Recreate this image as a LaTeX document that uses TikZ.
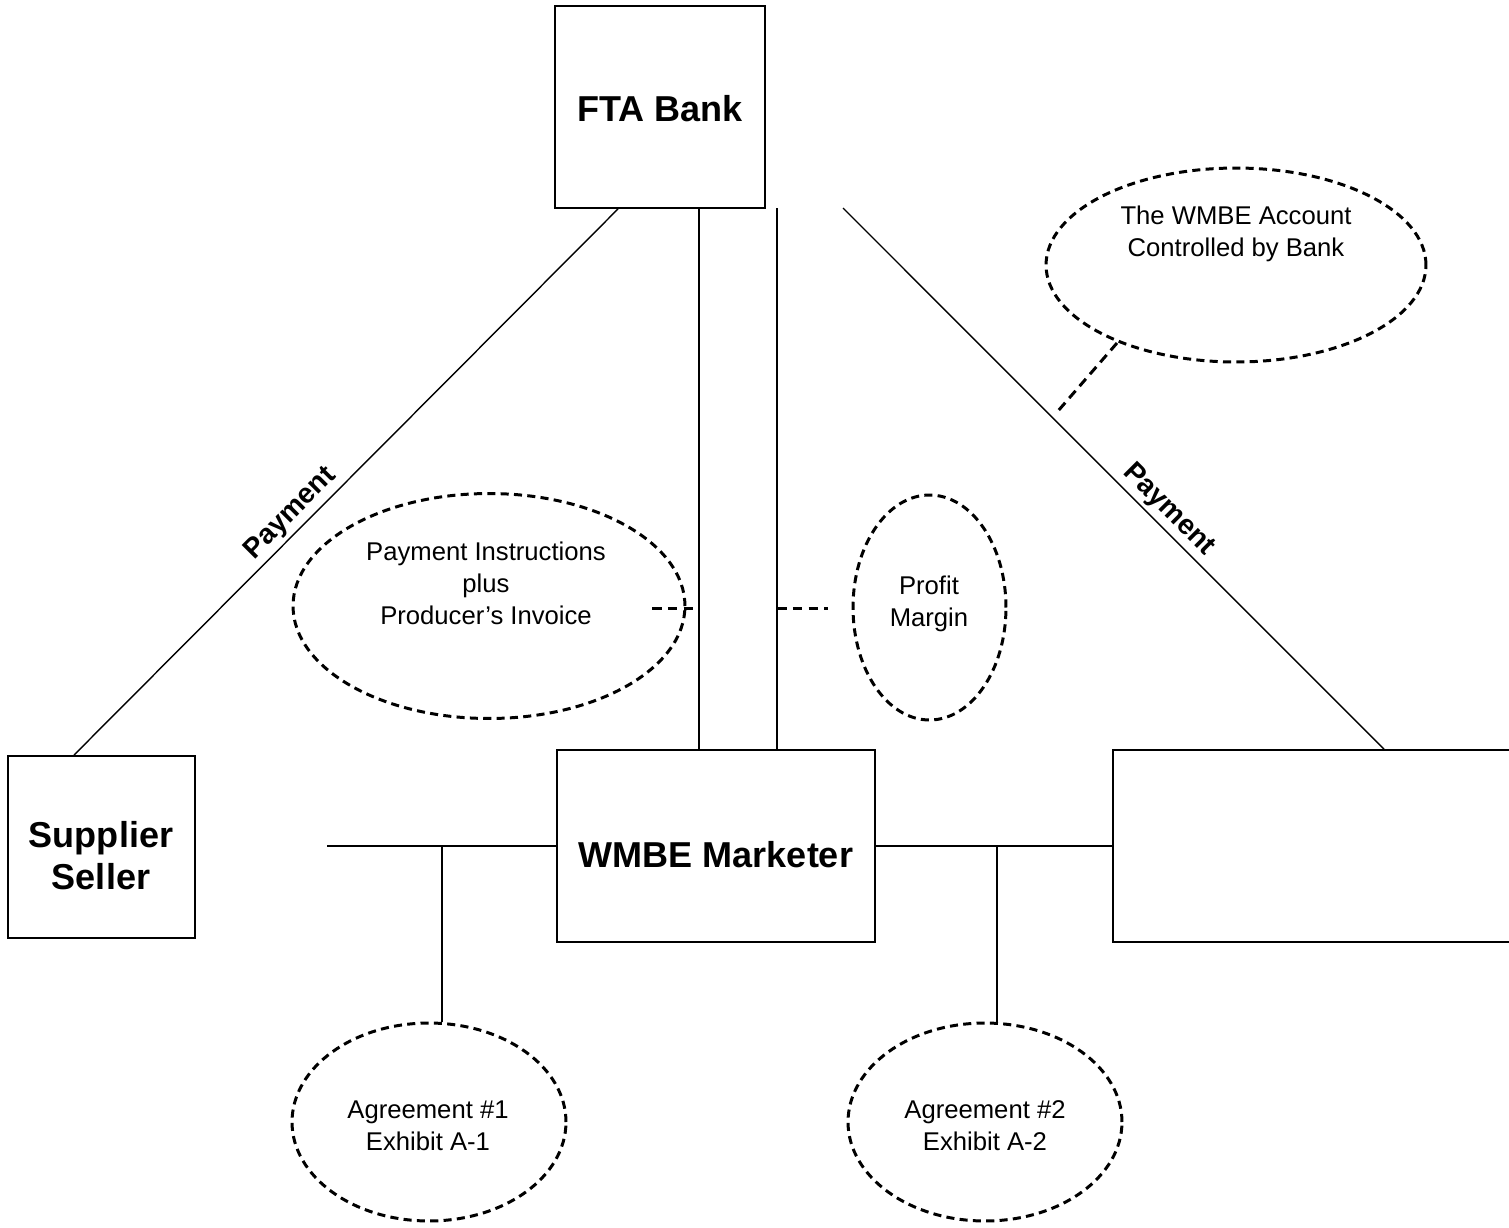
\documentclass[tikz,border=0pt]{standalone}
\usepackage{fontspec}
\setmainfont{Liberation Sans}
\usetikzlibrary{shapes.geometric}
\begin{document}
\begin{tikzpicture}[x=0.02cm,y=-0.02cm,
  box/.style={draw,line width=1.1pt,rectangle,inner sep=0pt},
  boxtext/.style={align=center,inner sep=0pt,font=\fontsize{20.5}{24}\selectfont\bfseries},
  oval/.style={draw,ellipse,line width=1.7pt,dash pattern=on 4.6pt off 3pt,inner sep=0pt},
  txt/.style={align=center,inner sep=0pt,font=\fontsize{14.6}{18.2}\selectfont},
  link/.style={line width=0.9pt},
  diag/.style={line width=0.8pt},
  dlink/.style={line width=1.7pt,dash pattern=on 5.5pt off 3.5pt},
  paylab/.style={font=\fontsize{16}{18}\selectfont\bfseries,inner sep=2pt}]
\useasboundingbox (0,0) rectangle (1509,1228);
\clip (0,0) rectangle (1509,1228);

% boxes
\node[box,minimum width=4.2cm,minimum height=4.04cm] (fta) at (660,107) {};
\node[boxtext] (ftatext) at (660,109) {FTA Bank};
\node[box,minimum width=3.74cm,minimum height=3.64cm] (sup) at (101.5,847) {};
\node[boxtext] (suptext) at (101,856) {Supplier\\Seller};
\node[box,minimum width=6.36cm,minimum height=3.84cm] (wmbe) at (716,846) {};
\node[boxtext] (wmbetext) at (716,855) {WMBE Marketer};
\node[box,minimum width=9.74cm,minimum height=3.84cm] (cust) at (1356.5,846) {};

% ellipses
\node[oval,minimum width=7.84cm,minimum height=4.5cm] (pi) at (489,606) {};
\node[txt] (pitext) at (486,583) {Payment Instructions\\plus\\Producer’s Invoice};
\node[oval,minimum width=3.06cm,minimum height=4.5cm] (pm) at (929.5,607.5) {};
\node[txt] (pmtext) at (929,604) {Profit\\Margin};
\node[oval,minimum width=7.6cm,minimum height=3.88cm] (acct) at (1236,265) {};
\node[txt] (accttext) at (1236,234) {The WMBE Account\\Controlled by Bank};
\node[oval,minimum width=5.48cm,minimum height=3.96cm] (a1) at (429,1122) {};
\node[txt] (a1text) at (428,1126) {Agreement \#1\\Exhibit A-1};
\node[oval,minimum width=5.48cm,minimum height=3.96cm] (a2) at (985,1122) {};
\node[txt] (a2text) at (985,1126) {Agreement \#2\\Exhibit A-2};

% free ends
\coordinate (pl1) at (618,0);
\coordinate (pl2) at (74,0);
\coordinate (pr1) at (843,208);
\coordinate (pr2) at (1384,0);
\coordinate (v1) at (699,0);
\coordinate (v2) at (777,208);
\coordinate (hl) at (327,0);
\coordinate (t1) at (442,0);
\coordinate (t2) at (997,0);
\coordinate (dpi) at (652,608);
\coordinate (dpm) at (828,608);
\coordinate (cs) at (1117,343);
\coordinate (ce) at (1058,411);

% payment diagonals
\draw[diag] (pl1 |- fta.south) -- node[paylab,sloped,above,pos=0.58] (payL) {Payment} (pl2 |- sup.north);
\draw[diag] (pr1) -- node[paylab,sloped,above,pos=0.58] (payR) {Payment} (pr2 |- cust.north);

% verticals between bank and marketer
\draw[link] (v1 |- fta.south) -- (v1 |- wmbe.north);
\draw[link] (v2) -- (v2 |- wmbe.north);

% horizontals to agreements
\draw[link] (hl |- wmbe.west) -- (wmbe.west);
\draw[link] (t1 |- wmbe.west) -- (t1 |- a1.north);
\draw[link] (wmbe.east) -- (cust.west);
\draw[link] (t2 |- wmbe.east) -- (t2 |- a2.north);

% dashed links
\draw[dlink] (dpi) -- (v1 |- dpi);
\draw[dlink] (v2 |- dpm) -- (dpm);
\draw[dlink] (cs) -- (ce);
\end{tikzpicture}
\end{document}
